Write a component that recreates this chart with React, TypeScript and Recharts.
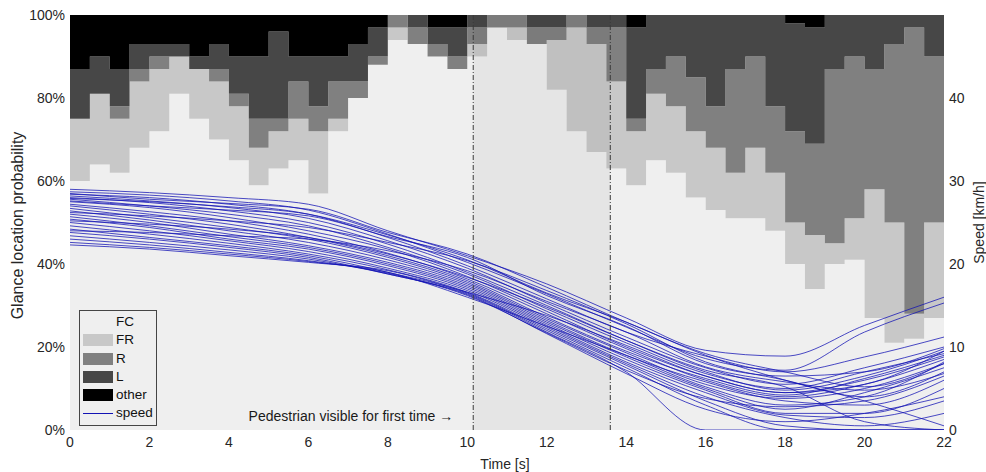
import React from "react";
import {
  ComposedChart,
  Area,
  Line,
  XAxis,
  YAxis,
  ReferenceLine,
  ReferenceArea,
  Legend,
} from "recharts";

// glance location shares (%) every 0.5 s
const times = [
  0, 0.5, 1, 1.5, 2, 2.5, 3, 3.5, 4, 4.5, 5, 5.5, 6, 6.5, 7, 7.5, 8, 8.5, 9,
  9.5, 10, 10.5, 11, 11.5, 12, 12.5, 13, 13.5, 14, 14.5, 15, 15.5, 16, 16.5,
  17, 17.5, 18, 18.5, 19, 19.5, 20, 20.5, 21, 21.5, 22,
];
const fc = [
  60, 64, 62, 68, 72, 81, 75, 70, 65, 59, 63, 65, 57, 72, 80, 88, 94, 93, 90,
  87, 90, 97, 94, 93, 82, 72, 67, 63, 59, 65, 62, 56, 53, 51, 51, 48, 40, 34,
  40, 41, 27, 21, 22, 27, 28,
];
const fr = [
  15, 17, 13, 16, 15, 9, 12, 14, 13, 9, 9, 10, 15, 3, 0, 0, 3, 0, 0, 0, 3, 0,
  3, 0, 12, 25, 26, 21, 13, 16, 16, 16, 15, 11, 17, 14, 10, 13, 5, 10, 31, 29,
  6, 23, 25,
];
const r = [
  0, 0, 3, 3, 3, 0, 0, 3, 3, 7, 3, 9, 6, 9, 4, 2, 3, 4, 3, 3, 4, 3, 3, 4, 3,
  3, 4, 13, 3, 6, 12, 13, 10, 25, 22, 16, 22, 22, 42, 39, 29, 43, 69, 40, 40,
];
const l = [
  12, 9, 9, 6, 3, 3, 3, 6, 9, 15, 21, 6, 12, 6, 9, 7, 0, 3, 4, 7, 3, 0, 0, 3,
  3, 0, 3, 3, 22, 13, 10, 15, 22, 13, 10, 22, 26, 28, 13, 10, 13, 7, 3, 10, 7,
];
const other = [
  13, 10, 13, 7, 7, 7, 10, 7, 10, 10, 4, 10, 10, 10, 7, 3, 0, 0, 3, 3, 0, 0, 0,
  0, 0, 0, 0, 0, 3, 0, 0, 0, 0, 0, 0, 0, 2, 3, 0, 0, 0, 0, 0, 0, 0,
];

// speed (km/h) of each run every 2 s
const speedTimes = [0, 2, 4, 6, 8, 10, 12, 14, 16, 18, 20, 22];
const speedRuns = [
  [29.0, 28.6, 28.0, 27.2, 24.0, 21.0, 17.6, 13.5, 9.6, 8.9, 12.6, 16.0],
  [28.7, 28.3, 27.6, 26.5, 23.6, 20.2, 16.4, 12.4, 8.6, 7.2, 11.8, 15.3],
  [28.4, 28.0, 27.2, 26.0, 23.2, 19.8, 15.8, 11.8, 8.9, 7.0, 8.8, 11.2],
  [28.2, 27.6, 26.8, 25.5, 22.8, 19.5, 15.3, 11.2, 7.5, 5.5, 7.5, 10.0],
  [28.0, 27.4, 26.4, 25.0, 22.4, 19.0, 15.0, 10.8, 7.0, 4.8, 6.5, 9.5],
  [27.8, 27.0, 26.0, 24.6, 22.0, 18.8, 14.6, 10.5, 6.8, 5.0, 7.0, 9.2],
  [27.5, 26.8, 25.6, 24.0, 21.8, 18.5, 14.3, 10.0, 6.5, 4.5, 6.0, 8.8],
  [27.2, 26.3, 25.2, 23.6, 21.3, 18.2, 14.0, 9.8, 6.0, 4.0, 5.5, 8.5],
  [27.0, 26.0, 24.8, 23.2, 21.0, 18.0, 13.6, 9.5, 6.2, 4.2, 6.2, 9.0],
  [26.7, 25.6, 24.4, 23.0, 20.8, 17.8, 13.4, 9.3, 5.5, 3.8, 5.0, 8.0],
  [26.4, 25.3, 24.0, 22.6, 20.5, 17.6, 13.2, 9.0, 5.8, 3.5, 3.0, 6.0],
  [26.0, 25.0, 23.6, 22.2, 20.2, 17.4, 13.0, 8.8, 5.0, 2.5, 4.5, 7.5],
  [25.7, 24.6, 23.3, 22.0, 20.0, 17.2, 12.8, 8.5, 4.8, 2.0, 2.0, 5.0],
  [25.4, 24.4, 23.0, 21.8, 19.8, 17.0, 12.6, 8.2, 4.5, 1.8, 1.5, 3.5],
  [25.0, 24.0, 22.8, 21.5, 19.5, 16.8, 12.4, 8.0, 4.0, 1.5, 0.5, 2.0],
  [24.6, 23.6, 22.5, 21.2, 19.3, 16.6, 12.2, 7.8, 3.5, 0.5, 0, 0],
  [24.2, 23.2, 22.2, 21.0, 19.0, 16.5, 12.0, 7.5, 3.0, 0, 0, 0],
  [23.8, 23.0, 22.0, 20.8, 18.8, 16.4, 11.8, 7.0, 0, 0, 0, 0],
  [23.4, 22.6, 21.7, 20.6, 18.8, 16.3, 11.6, 6.8, 2.5, 1.0, 2.0, 4.0],
  [23.0, 22.3, 21.4, 20.4, 18.9, 16.2, 11.7, 7.2, 3.8, 2.8, 3.5, 6.5],
  [22.6, 22.0, 21.2, 20.3, 19.0, 16.0, 12.5, 9.0, 5.2, 3.0, 4.0, 8.2],
  [22.3, 21.8, 21.0, 20.2, 19.2, 16.6, 13.8, 10.2, 6.5, 4.5, 5.5, 9.5],
  [27.6, 27.0, 26.5, 25.8, 23.3, 20.8, 16.2, 12.5, 8.0, 6.5, 7.0, 9.8],
  [28.5, 27.8, 27.3, 26.6, 23.8, 21.2, 17.2, 13.0, 9.2, 7.0, 5.2, 8.0],
  [26.2, 25.8, 25.2, 24.4, 22.6, 20.4, 16.8, 12.8, 8.2, 6.0, 4.0, 7.0],
  [24.0, 23.8, 23.4, 23.0, 21.6, 19.2, 15.5, 11.8, 7.6, 5.8, 4.8, 6.8],
  [27.9, 27.5, 26.9, 26.0, 23.5, 20.5, 16.5, 13.0, 9.0, 6.0, 3.5, 0.5],
  [25.2, 24.8, 24.2, 23.2, 21.2, 18.4, 14.8, 10.8, 7.2, 5.2, 1.0, 0],
];

const xTicks = [0, 2, 4, 6, 8, 10, 12, 14, 16, 18, 20, 22];
const pctTicks = [0, 20, 40, 60, 80, 100];
const speedTicks = [0, 10, 20, 30, 40];
const pedestrianSeen = 10.15;
const secondMark = 13.6;

const glance = [
  { key: "fc", name: "FC", color: "#efefef" },
  { key: "fr", name: "FR", color: "#c8c8c8" },
  { key: "r", name: "R", color: "#808080" },
  { key: "l", name: "L", color: "#474747" },
  { key: "other", name: "other", color: "#000000" },
];
const speedColor = "#1212b4";

const data = times.map((t, i) => {
  const row: Record<string, number> = {
    t,
    fc: fc[i],
    fr: fr[i],
    r: r[i],
    l: l[i],
    other: other[i],
  };
  const k = speedTimes.indexOf(t);
  if (k >= 0) speedRuns.forEach((run, j) => (row["s" + j] = run[k]));
  return row;
});

const tickStyle = { fontSize: 14, fill: "#262626" };

function LegendBox() {
  return (
    <div
      style={{
        border: "1px solid #454545",
        padding: "2px 3px",
        width: 70,
        fontSize: 13.5,
        color: "#111",
        lineHeight: "18.3px",
      }}
    >
      {glance.map((g) => (
        <div key={g.key} style={{ display: "flex", alignItems: "center" }}>
          <span
            style={{ width: 30, height: 12, background: g.color, marginRight: 3 }}
          />
          {g.name}
        </div>
      ))}
      <div style={{ display: "flex", alignItems: "center" }}>
        <span
          style={{ width: 30, height: 1, background: speedColor, marginRight: 3 }}
        />
        speed
      </div>
    </div>
  );
}

export default function App() {
  return (
    <div
      style={{
        position: "absolute",
        left: 0,
        top: 0,
        width: 986,
        height: 472,
        background: "#fff",
        fontFamily: "'Liberation Sans', Arial, sans-serif",
      }}
    >
      <ComposedChart
        width={986}
        height={472}
        data={data}
        margin={{ top: 15, right: 0, left: 0, bottom: 0 }}
      >
        <XAxis
          dataKey="t"
          type="number"
          domain={[0, 22]}
          ticks={xTicks}
          tick={tickStyle}
          tickSize={0}
          tickMargin={7}
          axisLine={false}
          height={42}
          label={{
            value: "Time [s]",
            position: "insideBottom",
            offset: 3,
            dx: -2,
            style: { fontSize: 14, fill: "#262626" },
          }}
        />
        <YAxis
          yAxisId="left"
          domain={[0, 100]}
          ticks={pctTicks}
          tickFormatter={(v) => `${v}%`}
          tick={tickStyle}
          tickSize={0}
          tickMargin={5}
          axisLine={false}
          width={70}
          allowDataOverflow
          label={{
            value: "Glance location probability",
            angle: -90,
            position: "insideLeft",
            offset: 17,
            dy: 3,
            style: { fontSize: 16, fill: "#262626", textAnchor: "middle" },
          }}
        />
        <YAxis
          yAxisId="right"
          orientation="right"
          domain={[0, 50]}
          ticks={speedTicks}
          tick={tickStyle}
          tickSize={0}
          tickMargin={5}
          axisLine={false}
          width={42}
          allowDataOverflow
          label={{
            value: "Speed [km/h]",
            angle: -90,
            position: "insideRight",
            offset: 7,
            style: { fontSize: 14, fill: "#262626", textAnchor: "middle" },
          }}
        />
        {glance.map((g) => (
          <Area
            key={g.key}
            yAxisId="left"
            dataKey={g.key}
            name={g.name}
            stackId="glance"
            type="stepAfter"
            fill={g.color}
            fillOpacity={1}
            stroke="none"
            isAnimationActive={false}
          />
        ))}
        <ReferenceArea
          yAxisId="left"
          x1={pedestrianSeen}
          x2={secondMark}
          y1={0}
          y2={100}
          fill="#000"
          fillOpacity={0.04}
          stroke="none"
        />
        {speedRuns.map((_, j) => (
          <Line
            key={j}
            yAxisId="right"
            dataKey={"s" + j}
            type="monotone"
            stroke={speedColor}
            strokeWidth={0.9}
            strokeOpacity={0.85}
            dot={false}
            connectNulls
            legendType="none"
            isAnimationActive={false}
          />
        ))}
        <ReferenceLine
          yAxisId="left"
          x={pedestrianSeen}
          stroke="#3a3a3a"
          strokeDasharray="5 2 1 2"
          label={{
            value: "Pedestrian visible for first time \u2192",
            position: "insideBottomRight",
            offset: 9,
            dx: -11,
            style: { fontSize: 14, fill: "#1a1a1a" },
          }}
        />
        <ReferenceLine
          yAxisId="left"
          x={secondMark}
          stroke="#3a3a3a"
          strokeDasharray="5 2 1 2"
        />
        <Legend
          layout="vertical"
          align="center"
          verticalAlign="middle"
          content={() => <LegendBox />}
          wrapperStyle={{ left: 79, top: 310, width: 78, right: "auto", bottom: "auto" }}
        />
      </ComposedChart>
    </div>
  );
}
